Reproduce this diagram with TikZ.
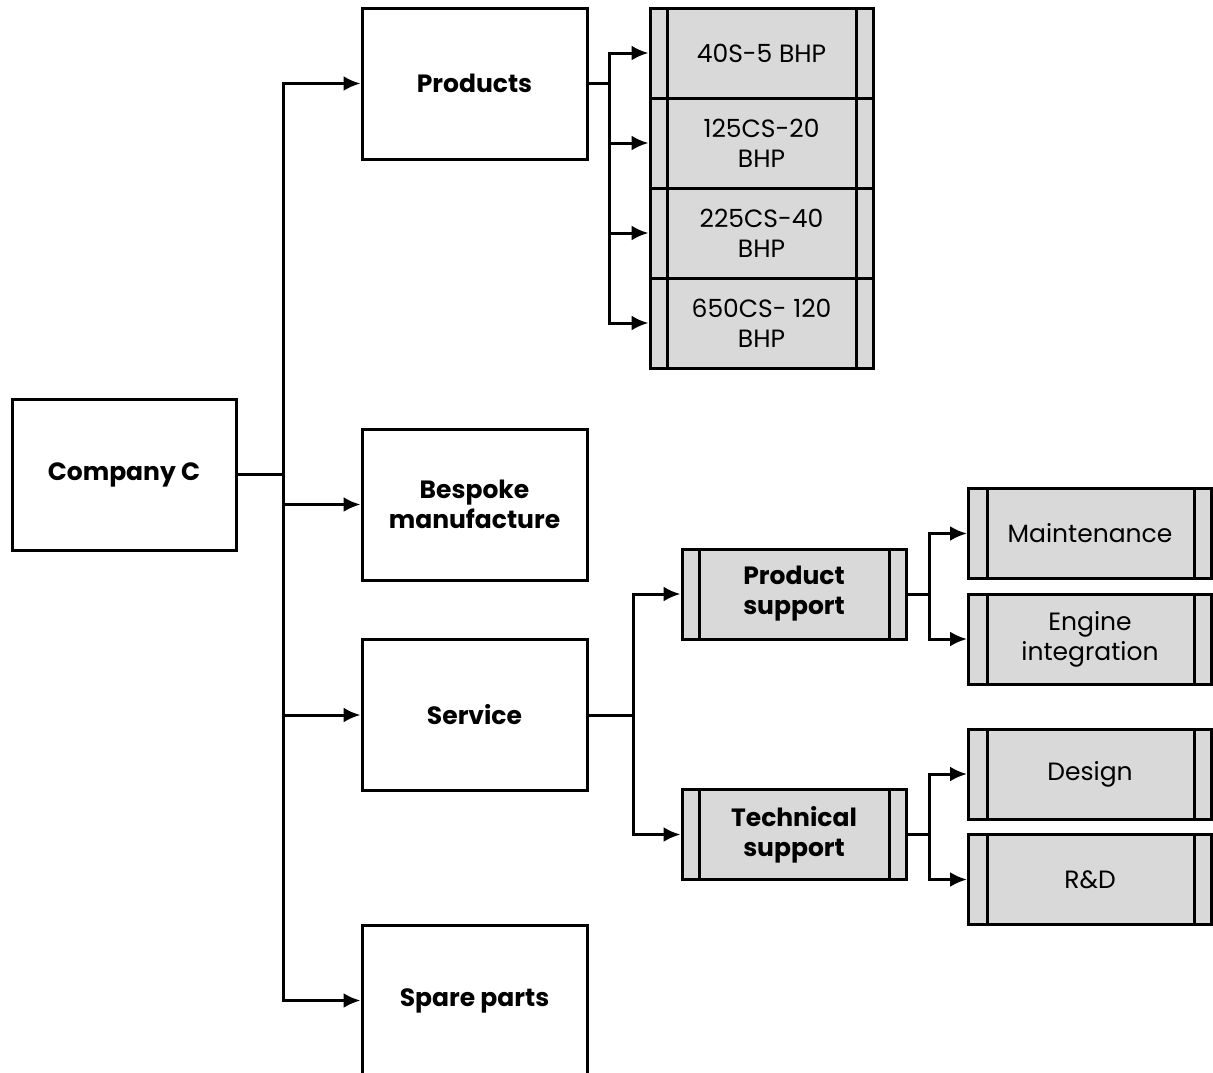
\documentclass[tikz,border=0pt]{standalone}
\usepackage{fontspec}
\setmainfont{Poppins}
\usetikzlibrary{arrows.meta,calc}
\definecolor{boxgray}{HTML}{D9D9D9}
\begin{document}
\begin{tikzpicture}[x=0.5pt,y=-0.5pt,
 base/.style={draw=black, line width=1.5pt, align=center, inner sep=0pt, font=\fontsize{12.5}{15}\selectfont},
 whitebox/.style={base, fill=white, minimum width=112.5pt, minimum height=75.5pt, font=\fontsize{12.5}{15}\selectfont\bfseries},
 procbox/.style={base, fill=boxgray, minimum width=111.5pt, minimum height=45pt},
 widebox/.style={procbox, minimum width=121.5pt},
 arr/.style={-{Latex[length=8.5pt,width=7.5pt]}, line width=1.5pt},
 link/.style={line width=1.5pt, line cap=rect},
 bold/.style={font=\fontsize{12.5}{15}\selectfont\bfseries}]
\useasboundingbox (0,0) rectangle (1213,1072);
\begin{scope}
\clip (0,0) rectangle (1213,1072);
% main boxes
\node[whitebox, minimum width=112pt] (cc) at (124,474.5) {Company C};
\node[whitebox] (prod) at (474.5,83.5) {Products};
\node[whitebox] (besp) at (474.5,504.5) {Bespoke\\manufacture};
\node[whitebox] (serv) at (474.5,715) {Service};
\node[whitebox] (spare) at (474.5,1000.5) {Spare parts};
% product stack
\node[procbox] (p1) at (761.5,53) {40S-5 BHP};
\node[procbox] (p2) at (761.5,143) {125CS-20\\BHP};
\node[procbox] (p3) at (761.5,233) {225CS-40\\BHP};
\node[procbox] (p4) at (761.5,323) {650CS- 120\\BHP};
% service
\node[procbox, bold, minimum width=112pt] (ps) at (794,594) {Product\\support};
\node[procbox, bold, minimum width=112pt] (ts) at (794,834.5) {Technical\\support};
\node[widebox] (mt) at (1090,533.5) {Maintenance};
\node[widebox] (ei) at (1090,639) {Engine\\integration};
\node[widebox] (ds) at (1090,774) {Design};
\node[widebox] (rd) at (1090,879.5) {R\&D};
% inner lines
\foreach \n in {p1,p2,p3,p4,ps,ts}{
  \draw[line width=1.5pt] ([xshift=9.5pt]\n.north west) -- ([xshift=9.5pt]\n.south west);
  \draw[line width=1.5pt] ([xshift=-9pt]\n.north east) -- ([xshift=-9pt]\n.south east);
}
\foreach \n in {mt,ei,ds,rd}{
  \draw[line width=1.5pt] ([xshift=10pt]\n.north west) -- ([xshift=10pt]\n.south west);
  \draw[line width=1.5pt] ([xshift=-9.5pt]\n.north east) -- ([xshift=-9.5pt]\n.south east);
}
% trunk
\coordinate (t0) at (283,474.5);
\draw[link] (cc.east) -- (t0);
\draw[link] (prod.west -| t0) -- (spare.west -| t0);
\foreach \n in {prod,besp,serv,spare}{
  \draw[arr] (\n.west -| t0) -- (\n.west);
}
% products
\coordinate (j1) at (609,83.5);
\draw[link] (prod.east) -- (j1);
\draw[link] (p1.west -| j1) -- (p4.west -| j1);
\foreach \n in {p1,p2,p3,p4}{
  \draw[arr] (\n.west -| j1) -- (\n.west);
}
% service
\coordinate (j2) at (633,715);
\draw[link] (serv.east) -- (j2);
\draw[link] (ps.west -| j2) -- (ts.west -| j2);
\foreach \n in {ps,ts}{
  \draw[arr] (\n.west -| j2) -- (\n.west);
}
% product support
\coordinate (j3) at (929,594);
\draw[link] (ps.east) -- (j3);
\draw[link] (mt.west -| j3) -- (ei.west -| j3);
\foreach \n in {mt,ei}{
  \draw[arr] (\n.west -| j3) -- (\n.west);
}
% technical support
\coordinate (j4) at (929,834.5);
\draw[link] (ts.east) -- (j4);
\draw[link] (ds.west -| j4) -- (rd.west -| j4);
\foreach \n in {ds,rd}{
  \draw[arr] (\n.west -| j4) -- (\n.west);
}
\end{scope}
\end{tikzpicture}
\end{document}
